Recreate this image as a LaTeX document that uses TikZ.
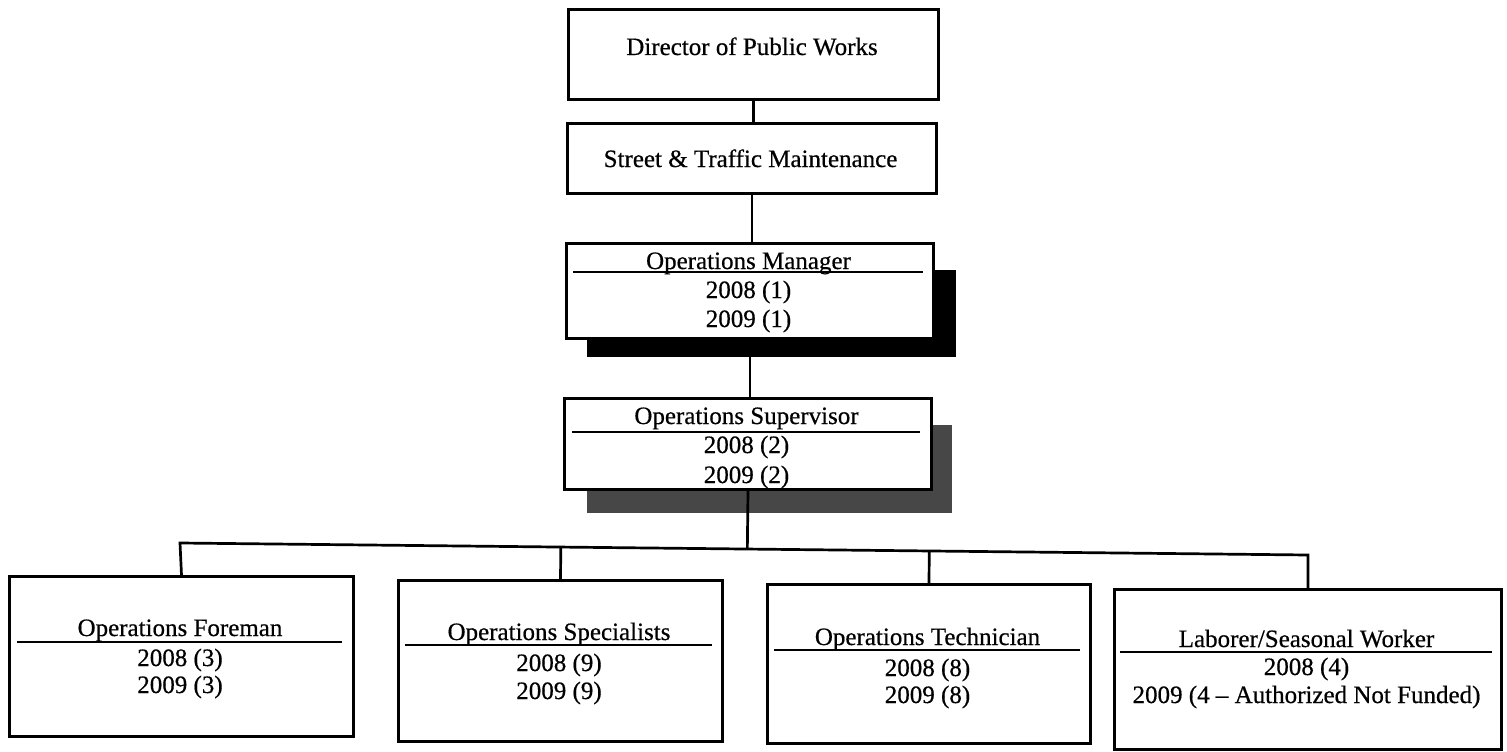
\documentclass[tikz,border=0pt]{standalone}
\usepackage{fontspec}
\setmainfont{Liberation Serif}[FakeBold=0.5]
\usetikzlibrary{calc}
\begin{document}
\begin{tikzpicture}[x=1pt,y=-1pt,
  box/.style={draw,line width=3pt,fill=white,anchor=north west,inner sep=0pt},
  txt/.style={anchor=base,inner sep=0pt,font=\fontsize{25}{30}\selectfont},
  conn/.style={line width=2.7pt,line join=miter},
  rulel/.style={line width=2.7pt}]
\useasboundingbox (0,0) rectangle (1507,752);
% shadows
\fill[black] (587,270) rectangle (956,357);
\fill[black!72] (587,425) rectangle (952,513);
% top boxes
\node[box,minimum width=370pt,minimum height=90pt] (dir) at (567,8) {};
\node[txt] (dirT) at (752,55) {Director of Public Works};
\node[box,minimum width=369pt,minimum height=70pt] (street) at (566,122) {};
\node[txt] (streetT) at (750.5,167) {Street \& Traffic Maintenance};
% manager
\node[box,minimum width=367pt,minimum height=95pt] (mgr) at (565,242) {};
\node[txt] (mgrT) at (748.5,269) {Operations Manager};
\draw[rulel] (573,272) -- (923,272);
\node[txt] (mgrA) at (748.5,298) {2008 (1)};
\node[txt] (mgrB) at (748.5,327) {2009 (1)};
% supervisor
\node[box,minimum width=367pt,minimum height=91pt] (sup) at (563,397) {};
\node[txt] (supT) at (746.5,424) {Operations Supervisor};
\draw[rulel] (572,432) -- (920,432);
\node[txt] (supA) at (746.5,453) {2008 (2)};
\node[txt] (supB) at (746.5,483) {2009 (2)};
% bottom row
\node[box,minimum width=344pt,minimum height=160pt] (fore) at (8,575) {};
\node[txt] (foreT) at (180,636) {Operations Foreman};
\draw[rulel] (17,642) -- (342,642);
\node[txt] (foreA) at (180,666) {2008 (3)};
\node[txt] (foreB) at (180,693) {2009 (3)};
\node[box,minimum width=324pt,minimum height=161pt] (spec) at (397,579) {};
\node[txt] (specT) at (559,640) {Operations Specialists};
\draw[rulel] (405,645) -- (712,645);
\node[txt] (specA) at (559,671) {2008 (9)};
\node[txt] (specB) at (559,699) {2009 (9)};
\node[box,minimum width=323pt,minimum height=159pt] (tech) at (766,583) {};
\node[txt] (techT) at (927.5,645) {Operations Technician};
\draw[rulel] (774,650) -- (1080,650);
\node[txt] (techA) at (927.5,676) {2008 (8)};
\node[txt] (techB) at (927.5,703) {2009 (8)};
\node[box,minimum width=387pt,minimum height=160pt] (lab) at (1113,588) {};
\node[txt] (labT) at (1306.5,647) {Laborer/Seasonal Worker};
\draw[rulel] (1120,652) -- (1492,652);
\node[txt] (labA) at (1306.5,675) {2008 (4)};
\node[txt] (labB) at (1306.5,703) {2009 (4 -- Authorized Not Funded)};
% connectors
\draw[conn] (dir.south) -- (dir.south |- street.north);
\draw[conn] (street.south) -- (street.south |- mgr.north);
\draw[conn] (mgr.south) -- (mgr.south |- sup.north);
\coordinate (bL) at (180,543);
\coordinate (bR) at (1308,555);
\draw[conn] (fore.north) -- (bL) -- (bR) -- (lab.north);
\draw[conn] (sup.south) -- ($(bL)!(sup.south)!(bR)$);
\draw[conn] ($(bL)!(spec.north)!(bR)$) -- (spec.north);
\draw[conn] ($(bL)!(tech.north)!(bR)$) -- (tech.north);
\end{tikzpicture}
\end{document}
